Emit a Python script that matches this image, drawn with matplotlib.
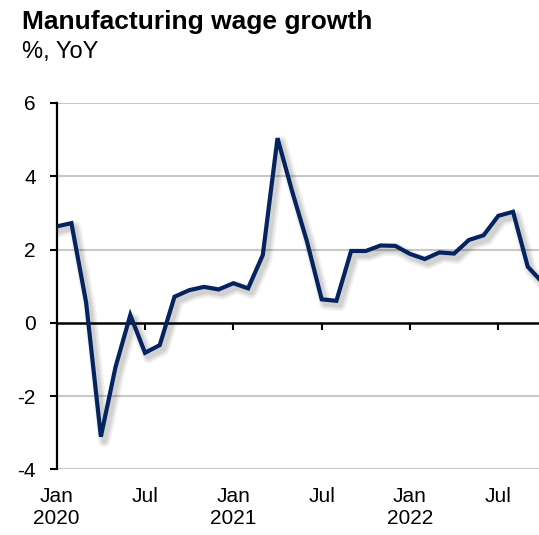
import matplotlib
matplotlib.use("Agg")
import matplotlib.pyplot as plt
import matplotlib.patheffects as pe
import numpy as np

# ---- data: monthly manufacturing wage growth, % YoY, Jan 2020 .. Oct 2022 ----
wage_growth = [
    2.63, 2.72, 0.55, -3.11, -1.20, 0.21, -0.82, -0.61, 0.71, 0.89, 0.98, 0.91,   # 2020
    1.08, 0.94, 1.85, 5.04, 3.58, 2.22, 0.64, 0.60, 1.96, 1.96, 2.11, 2.10,       # 2021
    1.88, 1.74, 1.92, 1.89, 2.26, 2.39, 2.92, 3.03, 1.53, 1.10,                   # 2022
]
tick_months = [0, 6, 12, 18, 24, 30]
tick_labels = ["Jan\n2020", "Jul", "Jan\n2021", "Jul", "Jan\n2022", "Jul"]
y_ticks = [-4, -2, 0, 2, 4, 6]

LINE = "#05245f"
FONT = "Liberation Sans"

plt.rcParams["font.family"] = [FONT, "DejaVu Sans"]

fig = plt.figure(figsize=(5.39, 5.35), dpi=100)
# axes runs past the right edge of the figure, series is cut there
ax = fig.add_axes([0.1052, 0.1228, 0.9286, 0.6847])

x = np.arange(len(wage_growth))

# soft drop shadow: a few widening, faint copies offset down-right
shadow = [
    pe.SimpleLineShadow(offset=(2.5, -3), shadow_color="black", alpha=0.05,
                        linewidth=9, joinstyle="round"),
    pe.SimpleLineShadow(offset=(2.5, -3), shadow_color="black", alpha=0.06,
                        linewidth=6.5, joinstyle="round"),
    pe.SimpleLineShadow(offset=(2.5, -3), shadow_color="black", alpha=0.08,
                        linewidth=4, joinstyle="round"),
    pe.Normal(),
]
ax.plot(x, wage_growth, color=LINE, linewidth=3, solid_joinstyle="miter",
        path_effects=shadow, zorder=3)

ax.set_xlim(0, 34)
ax.set_ylim(-4, 6)

# grid (zero handled by the spine)
for v in y_ticks:
    if v != 0:
        ax.axhline(v, color="#c8c8c8", linewidth=1.5, zorder=1)

# left axis
ax.set_yticks(y_ticks)
ax.set_yticklabels([str(v) for v in y_ticks])
ax.tick_params(axis="y", direction="out", length=5, width=1.5, pad=10,
               labelsize=15, color="black")
ax.spines["left"].set_linewidth(1.6)

# zero line with month ticks, labels kept at the bottom
ax.spines["bottom"].set_position(("data", 0))
ax.spines["bottom"].set_linewidth(1.8)
ax.spines["bottom"].set_zorder(2)
ax.set_xticks(tick_months)
ax.tick_params(axis="x", direction="out", length=5, width=1.5,
               labelbottom=False, color="black")
for side in ("top", "right"):
    ax.spines[side].set_visible(False)

sec = ax.secondary_xaxis("bottom")
sec.set_xticks(tick_months)
sec.set_xticklabels(tick_labels)
sec.tick_params(length=0, pad=13, labelsize=15)
sec.spines["bottom"].set_visible(False)

fig.text(0.0408, 0.945, "Manufacturing wage growth", fontsize=19, fontweight="bold",
         va="baseline", ha="left")
fig.text(0.0408, 0.891, "%, YoY", fontsize=17, va="baseline", ha="left")

fig.savefig("out.png", dpi=100)
